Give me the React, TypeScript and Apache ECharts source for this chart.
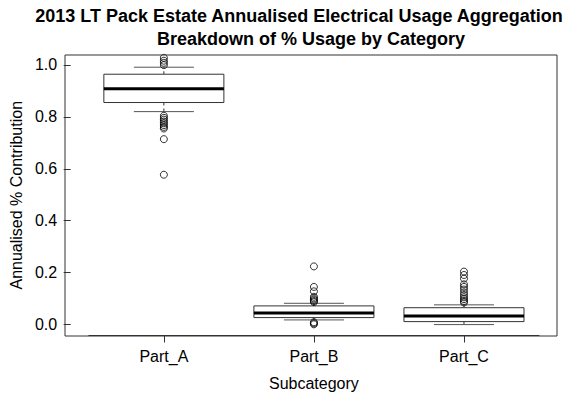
import React, { useEffect, useRef } from "react";
import * as echarts from "echarts";

const titleLines = [
  "2013 LT Pack Estate Annualised Electrical Usage Aggregation",
  "Breakdown of % Usage by Category",
];
const categories = ["Part_A", "Part_B", "Part_C"];
// [lower whisker, Q1, median, Q3, upper whisker]
const statsA = [0.82, 0.855, 0.908, 0.964, 0.991];
const statsB = [0.018, 0.027, 0.045, 0.072, 0.082];
const statsC = [0.0, 0.0115, 0.033, 0.065, 0.076];
const outliersA = [1.027, 1.016, 1.008, 0.999, 0.804, 0.796, 0.789, 0.782, 0.775, 0.768, 0.761, 0.755, 0.714, 0.577];
const outliersB = [0.224, 0.145, 0.128, 0.107, 0.101, 0.096, 0.091, 0.087, 0.009, 0.005, 0.001];
const outliersC = [0.204, 0.191, 0.177, 0.155, 0.145, 0.135, 0.124, 0.114, 0.105, 0.098, 0.091, 0.085];
const yTickValues = [0, 0.2, 0.4, 0.6, 0.8, 1.0];
const yMin = -0.042;
const yMax = 1.038;
const xName = "Subcategory";
const yName = "Annualised % Contribution";

const FONT = "'Liberation Sans', Arial, Helvetica, sans-serif";

export default function App() {
  const ref = useRef<HTMLDivElement>(null);
  useEffect(() => {
    if (!ref.current) return;
    const chart = echarts.init(ref.current, null, { renderer: "svg" });
    const statsAll = [statsA, statsB, statsC];
    const boxData = statsAll.map((s, i) => [i, ...s]);
    const outAll = [outliersA, outliersB, outliersC];
    const outData: number[][] = [];
    outAll.forEach((arr, i) => arr.forEach((v) => outData.push([i, v])));

    const option: any = {
      animation: false,
      backgroundColor: "#ffffff",
      textStyle: { fontFamily: FONT },
      graphic: [
        {
          type: "text",
          x: 299,
          y: 16,
          style: {
            text: titleLines[0],
            font: `bold 18px ${FONT}`,
            fill: "#000",
            textAlign: "center",
            textVerticalAlign: "middle",
          },
        },
        {
          type: "text",
          x: 311,
          y: 38.5,
          style: {
            text: titleLines[1],
            font: `bold 18px ${FONT}`,
            fill: "#000",
            textAlign: "center",
            textVerticalAlign: "middle",
          },
        },
      ],
      grid: [
        { left: 83.2, width: 455.8, top: 55, bottom: 60, containLabel: false },
        {
          left: 65,
          right: 22,
          top: 55,
          bottom: 60,
          show: true,
          borderColor: "#333",
          borderWidth: 1,
          backgroundColor: "transparent",
          z: 10,
        },
      ],
      xAxis: [
        {
          type: "category",
          gridIndex: 0,
          data: categories,
          axisLine: { show: true, onZero: false, lineStyle: { color: "#333", width: 1 } },
          axisTick: { show: true, alignWithLabel: true, length: 7, lineStyle: { color: "#333" } },
          axisLabel: { color: "#000", fontSize: 16, margin: 13, fontFamily: FONT },
          name: xName,
          nameLocation: "middle",
          nameGap: 39.5,
          nameTextStyle: { color: "#000", fontSize: 16, fontFamily: FONT },
          splitLine: { show: false },
        },
        { type: "value", gridIndex: 1, show: false, min: 0, max: 1 },
      ],
      yAxis: [
        {
          type: "value",
          gridIndex: 0,
          min: yMin,
          max: yMax,
          offset: 18.2,
          axisLine: { show: false },
          axisTick: { show: true, length: 7, lineStyle: { color: "#333" }, customValues: yTickValues },
          axisLabel: {
            color: "#000",
            fontSize: 16,
            margin: 13.5,
            fontFamily: FONT,
            customValues: yTickValues,
            formatter: (v: number) => v.toFixed(1),
          },
          splitLine: { show: false },
          name: yName,
          nameLocation: "middle",
          nameGap: 43,
          nameRotate: 90,
          nameTextStyle: { color: "#000", fontSize: 16, fontFamily: FONT },
        },
        { type: "value", gridIndex: 1, show: false, min: 0, max: 1 },
      ],
      series: [
        {
          type: "custom",
          xAxisIndex: 0,
          yAxisIndex: 0,
          data: boxData,
          encode: { x: 0, y: [1, 2, 3, 4, 5] },
          renderItem: (params: any, api: any) => {
            const idx = api.value(0);
            const lo = api.coord([idx, api.value(1)]);
            const q1 = api.coord([idx, api.value(2)]);
            const med = api.coord([idx, api.value(3)]);
            const q3 = api.coord([idx, api.value(4)]);
            const hi = api.coord([idx, api.value(5)]);
            const band = api.size([1, 0])[0];
            const bw = band * 0.8;
            const cw = bw / 2;
            const x = lo[0];
            const lineStyle = { stroke: "#333", lineWidth: 1, fill: null };
            return {
              type: "group",
              children: [
                {
                  type: "line",
                  shape: { x1: x, y1: q3[1], x2: x, y2: hi[1] },
                  style: { ...lineStyle, lineDash: [3, 3] },
                },
                {
                  type: "line",
                  shape: { x1: x, y1: q1[1], x2: x, y2: lo[1] },
                  style: { ...lineStyle, lineDash: [3, 3] },
                },
                {
                  type: "line",
                  shape: { x1: x - cw / 2, y1: hi[1], x2: x + cw / 2, y2: hi[1] },
                  style: { ...lineStyle, stroke: "#555" },
                },
                {
                  type: "line",
                  shape: { x1: x - cw / 2, y1: lo[1], x2: x + cw / 2, y2: lo[1] },
                  style: { ...lineStyle, stroke: "#555" },
                },
                {
                  type: "rect",
                  shape: { x: x - bw / 2, y: q3[1], width: bw, height: q1[1] - q3[1] },
                  style: { fill: "#fff", stroke: "#333", lineWidth: 1 },
                },
                {
                  type: "line",
                  shape: { x1: x - bw / 2, y1: med[1], x2: x + bw / 2, y2: med[1] },
                  style: { stroke: "#000", lineWidth: 3 },
                },
              ],
            };
          },
          z: 2,
        },
        {
          type: "scatter",
          xAxisIndex: 0,
          yAxisIndex: 0,
          data: outData,
          symbol: "circle",
          symbolSize: 7,
          itemStyle: { color: "rgba(0,0,0,0)", borderColor: "#000", borderWidth: 1 },
          z: 3,
        },
      ],
    };
    chart.setOption(option);
    return () => chart.dispose();
  }, []);
  return (
    <div
      ref={ref}
      style={{ position: "fixed", left: 0, top: 0, width: 579, height: 396, background: "#fff" }}
    />
  );
}
